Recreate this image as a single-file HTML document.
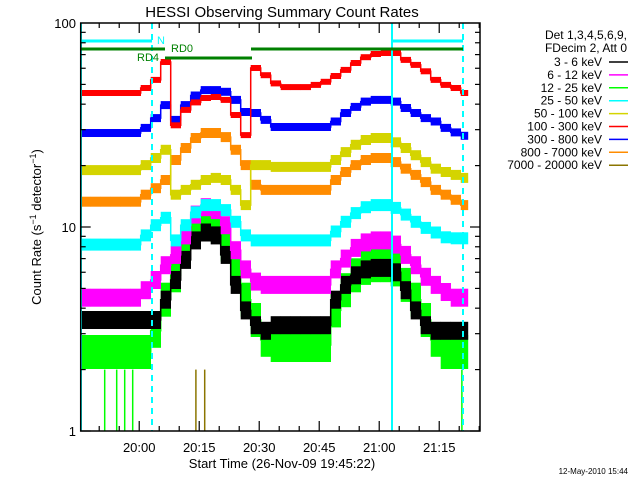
<!DOCTYPE html>
<html><head><meta charset="utf-8"><style>
html,body{margin:0;padding:0;background:#fff;}
svg{display:block;font-family:"Liberation Sans",sans-serif;}
</style></head><body>
<svg id="chart" width="640" height="480" viewBox="0 0 640 480">
<rect width="640" height="480" fill="#fff"/>
<g id="series"></g>
<g id="deco">
  <line x1="81" y1="23" x2="81" y2="431" stroke="#00ffff" stroke-width="2"/>
  <line x1="392" y1="23" x2="392" y2="431" stroke="#00ffff" stroke-width="2"/>
  <line x1="152" y1="23" x2="152" y2="431" stroke="#00ffff" stroke-width="2" stroke-dasharray="6,5"/>
  <line x1="463" y1="23" x2="463" y2="431" stroke="#00ffff" stroke-width="2" stroke-dasharray="6,5"/>
  <line x1="80" y1="41" x2="152" y2="41" stroke="#00ffff" stroke-width="3"/>
  <line x1="392" y1="41" x2="463" y2="41" stroke="#00ffff" stroke-width="3"/>
  <text x="157" y="44" fill="#00ffff" font-size="11">N</text>
  <line x1="80" y1="49" x2="165" y2="49" stroke="#008000" stroke-width="3"/>
  <line x1="165" y1="58" x2="252" y2="58" stroke="#008000" stroke-width="3"/>
  <line x1="251" y1="49" x2="463" y2="49" stroke="#008000" stroke-width="3"/>
  <text x="137" y="61" fill="#008000" font-size="11">RD4</text>
  <text x="171" y="52" fill="#008000" font-size="11">RD0</text>
</g>
<g id="axes"></g>
<text x="282" y="17" text-anchor="middle" font-size="15">HESSI Observing Summary Count Rates</text>
<text x="282" y="468" text-anchor="middle" font-size="13">Start Time (26-Nov-09 19:45:22)</text>
<text transform="translate(41,227) rotate(-90)" text-anchor="middle" font-size="13">Count Rate (s<tspan font-size="9" dy="-5">−1</tspan><tspan dy="5"> detector</tspan><tspan font-size="9" dy="-5">−1</tspan><tspan dy="5">)</tspan></text>
<g id="legend">
  <text x="627" y="39" text-anchor="end" font-size="12">Det 1,3,4,5,6,9,</text>
  <text x="627" y="52" text-anchor="end" font-size="12">FDecim 2, Att 0</text>
</g>
<text x="628" y="474" text-anchor="end" font-size="8">12-May-2010 15:44</text>
</svg>
<script>
// minutes since 19:45:22, every 2.5 min
const times = [0,2.5,5,7.5,10,12.5,15,17.5,20,22.5,25,27.5,30,32.5,35,37.5,40,42.5,45,47.5,50,52.5,55,57.5,60,62.5,65,67.5,70,72.5,75,77.5,80,82.5,85,87.5,90,92.5,95];
const red    = [45.4,45.4,45.4,45.4,45.4,45.4,48,52.6,64.4,31.5,37.5,40.8,42.9,43.4,42,35.4,28.2,60.2,55.5,50.6,48.5,48.5,48.5,49.7,51.5,55,58.9,63.7,68,70.5,71.3,71.3,65.9,62.3,58,52.6,49.7,48,45.4];
const blue   = [28.9,28.9,28.9,28.9,28.9,28.9,30.6,34.2,39.6,33.5,39.6,44.1,46.9,46.9,46,42,36.6,36.2,33.5,30.9,30.9,30.9,30.9,30.9,30.9,32.9,36.2,38.8,41.2,42,42,41.2,38.3,36.2,34.2,32.9,30.6,29.1,28];
const orange = [13.3,13.3,13.3,13.3,13.3,13.3,14.4,15.5,17,21.3,24.4,27.3,28.9,28.9,27.6,23.9,20.1,16.1,15.2,15.2,15.2,15.2,15.2,15.2,15.2,17,18.6,20.1,21.3,21.8,21.8,20.8,19.3,18,16.6,15.2,14.4,13.6,12.8];
const yellow = [19,19,19,19,19,19,20.1,21.8,23.9,14.4,15.2,16.1,17,17.4,17,15.2,12.8,20.1,20.1,19.7,19.7,19.7,19.7,19.7,19.7,21.3,23.3,25.3,26.7,27.3,27.3,26,24.4,22.5,20.8,19.3,18.6,18,17.4];
const cyan   = [8.2,8.2,8.2,8.2,8.2,8.2,9.1,10.2,11.1,8.6,10.2,11.8,12.8,12.8,12.1,10.6,9.1,8.6,8.6,8.6,8.6,8.6,8.6,8.6,8.6,9.5,10.6,11.7,12.5,12.8,12.8,12.4,11.5,10.6,9.9,9.4,8.9,8.8,8.8];
const magenta= [4.5,4.5,4.5,4.5,4.5,4.5,4.9,5.5,6.5,7.3,9.1,11.5,12.5,12.1,10.2,7.7,6.2,5.4,5.2,5.2,5.2,5.2,5.2,5.2,5.2,6.2,7.0,7.9,8.4,8.6,8.6,8.2,7.3,6.5,5.7,5.2,4.8,4.5,4.5];
const green  = [2.44,2.44,2.44,2.44,2.44,2.44,2.44,3.1,4.4,5.8,7.7,9.7,10.6,10.2,8.2,6.2,4.4,3.5,2.8,2.64,2.64,2.64,2.64,2.64,2.64,3.9,4.9,5.8,6.3,6.5,6.5,6.2,5.2,4.4,3.5,2.8,2.44,2.44,2.44];
const black  = [3.5,3.5,3.5,3.5,3.5,3.5,3.5,3.5,4.4,5.5,6.9,8.6,9.4,9.1,7.3,5.2,3.9,3.3,3.1,3.3,3.3,3.3,3.3,3.3,3.3,4.4,5.2,5.8,6.2,6.3,6.3,6.0,4.9,3.9,3.3,3.1,3.1,3.1,3.1];
// isolated low spikes (minute, value)
const greenSpikeTimes = [6,9,11,13,95.3];
const greenSpikeValues = [2,2,2,2,2];
const oliveSpikeTimes = [28.8,31];
const oliveSpikeValues = [2,2];
const xTickLabels = ["20:00","20:15","20:30","20:45","21:00","21:15"];
const xTickMinutes = [14.63,29.63,44.63,59.63,74.63,89.63];
const yTickLabels = ["1","10","100"];
const yTickValues = [1,10,100];
const legendLabels = ["3 - 6 keV","6 - 12 keV","12 - 25 keV","25 - 50 keV","50 - 100 keV","100 - 300 keV","300 - 800 keV","800 - 7000 keV","7000 - 20000 keV"];

const NS="http://www.w3.org/2000/svg";
const X0=80.7, XPM=4, Y1=431, YPD=204, XR=480, YT=23;
function xs(m){return X0+XPM*m;}
function ys(v){return Y1-YPD*Math.log10(v);}
function mk(tag,parent){const e=document.createElementNS(NS,tag);parent.appendChild(e);return e;}

const sg=document.getElementById('series');
function stepSeries(vals,color,h,name){
  const g=mk('g',sg);
  
  
  let d='';
  for(let i=0;i<times.length;i++){
    const x0=xs(times[i]), x1=(i<times.length-1?xs(times[i+1]):xs(times[i]+1.8));
    const y=Math.max(ys(vals[i]),YT+1);
    const r=mk('rect',g);
    r.setAttribute('x',x0.toFixed(1));r.setAttribute('width',(x1-x0+0.3).toFixed(1));
    r.setAttribute('y',(y-h/2).toFixed(1));r.setAttribute('height',h);
    r.setAttribute('fill',color);
    
    
    d+=(i===0?'M':'L')+x0.toFixed(1)+','+y.toFixed(1)+'L'+x1.toFixed(1)+','+y.toFixed(1);
  }
  const p=mk('path',g);
  p.setAttribute('d',d);p.setAttribute('fill','none');p.setAttribute('stroke',color);p.setAttribute('stroke-width',1.5);
  
  
}
function spikes(ts,vs,color,name){
  for(let i=0;i<ts.length;i++){
    const l=mk('line',sg);
    l.setAttribute('x1',xs(ts[i]));l.setAttribute('x2',xs(ts[i]));
    l.setAttribute('y1',ys(vs[i]));l.setAttribute('y2',Y1);
    l.setAttribute('stroke',color);l.setAttribute('stroke-width',1.5);
    
    
  }
}
spikes(greenSpikeTimes,greenSpikeValues,'#00ff00','spike-12-25kev');
spikes(oliveSpikeTimes,oliveSpikeValues,'#8b7500','spike-7000-20000kev');
stepSeries(green,'#00ff00',34,'series-12-25kev');
stepSeries(black,'#000000',18,'series-3-6kev');
stepSeries(magenta,'#ff00ff',18,'series-6-12kev');
stepSeries(cyan,'#00ffff',12,'series-25-50kev');
stepSeries(orange,'#ff8c00',10,'series-800-7000kev');
stepSeries(yellow,'#d4d400',10,'series-50-100kev');
stepSeries(blue,'#0000ff',8,'series-300-800kev');
stepSeries(red,'#ff0000',6,'series-100-300kev');

const ax=document.getElementById('axes');
const frame=mk('rect',ax);
frame.setAttribute('x',X0);frame.setAttribute('y',YT);frame.setAttribute('width',XR-X0);frame.setAttribute('height',Y1-YT);
frame.setAttribute('fill','none');frame.setAttribute('stroke','#000');frame.setAttribute('stroke-width',1.5);


function tick(x1,y1,x2,y2,name){const l=mk('line',ax);l.setAttribute('x1',x1);l.setAttribute('y1',y1);l.setAttribute('x2',x2);l.setAttribute('y2',y2);l.setAttribute('stroke','#000');l.setAttribute('stroke-width',1.2);
  
  }
for(let m=xTickMinutes[0]-10;xs(m)<XR;m+=5){
  if(m<0)continue;
  const major=xTickMinutes.some(t=>Math.abs(t-m)<0.01);
  const L=major?10:5;
  tick(xs(m),Y1,xs(m),Y1-L,'x-tick');
  tick(xs(m),YT,xs(m),YT+L,'x-tick-top');
}
xTickLabels.forEach((s,i)=>{const t=mk('text',ax);t.setAttribute('x',xs(xTickMinutes[i]));t.setAttribute('y',452);t.setAttribute('text-anchor','middle');t.setAttribute('font-size','13');t.textContent=s;
  
  });
for(let d=0;d<2;d++){for(let k=1;k<=9;k++){const v=k*Math.pow(10,d);const L=k===1?10:5;
  tick(X0,ys(v),X0+L,ys(v),'y-tick');tick(XR,ys(v),XR-L,ys(v),'y-tick-right');}}
yTickLabels.forEach((s,i)=>{const t=mk('text',ax);t.setAttribute('x',76);t.setAttribute('y',ys(yTickValues[i])+5);t.setAttribute('text-anchor','end');t.setAttribute('font-size','13');t.textContent=s;
  
  });

const lg=document.getElementById('legend');
const legendColors=['#000000','#ff00ff','#00ff00','#00ffff','#d4d400','#ff0000','#0000ff','#ff8c00','#8b7500'];
legendLabels.forEach((s,i)=>{const y=62+12.9*i;
  const t=mk('text',lg);t.setAttribute('x',602);t.setAttribute('y',y+4);t.setAttribute('text-anchor','end');t.setAttribute('font-size','12');t.textContent=s;
  
  
  const l=mk('line',lg);l.setAttribute('x1',609);l.setAttribute('x2',628);l.setAttribute('y1',y);l.setAttribute('y2',y);l.setAttribute('stroke',legendColors[i]);l.setAttribute('stroke-width',1.5);
  
  
});
</script>
</body></html>
